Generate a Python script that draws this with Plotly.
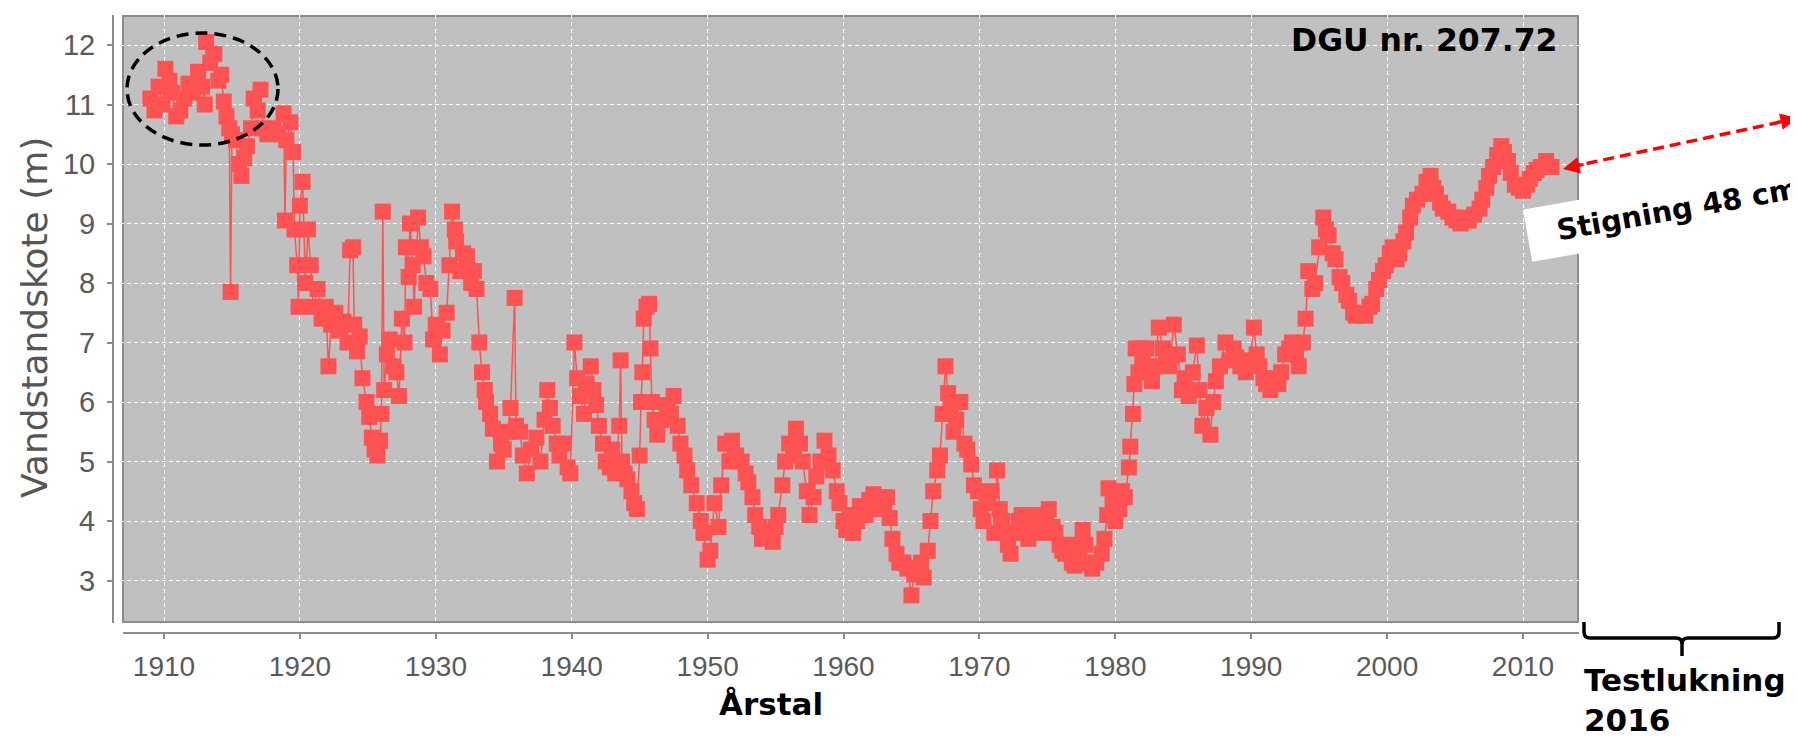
import plotly.graph_objects as go

# ---------------- data ----------------
years = [
    1909.0, 1909.3, 1909.6, 1909.9, 1910.1, 1910.4, 1910.6, 1910.9, 1911.2, 1911.5,
    1911.8, 1912.1, 1912.5, 1912.8, 1913.0, 1913.1, 1913.4, 1913.7, 1914.0, 1914.2,
    1914.4, 1914.6, 1914.8, 1914.9, 1915.0, 1915.3, 1915.5, 1915.7, 1915.9, 1916.1,
    1916.4, 1916.6, 1916.9, 1917.1, 1917.3, 1917.6, 1918.0, 1918.4, 1918.8, 1918.9,
    1919.0, 1919.3, 1919.5, 1919.6, 1919.8, 1919.9, 1920.0, 1920.2, 1920.4, 1920.6,
    1920.8, 1921.0, 1921.3, 1921.6, 1921.9, 1922.1, 1922.3, 1922.6, 1922.9, 1923.2,
    1923.5, 1923.7, 1923.9, 1924.0, 1924.2, 1924.4, 1924.6, 1924.9, 1925.1, 1925.3,
    1925.5, 1925.7, 1925.9, 1926.0, 1926.1, 1926.2, 1926.4, 1926.6, 1926.9, 1927.1,
    1927.3, 1927.5, 1927.7, 1927.8, 1928.0, 1928.1, 1928.3, 1928.4, 1928.7, 1928.9,
    1929.1, 1929.3, 1929.6, 1929.8, 1930.0, 1930.3, 1930.5, 1930.8, 1931.0, 1931.2,
    1931.4, 1931.5, 1931.8, 1932.0, 1932.3, 1932.6, 1932.8, 1933.0, 1933.2, 1933.4,
    1933.6, 1933.7, 1934.0, 1934.2, 1934.5, 1934.8, 1935.0, 1935.3, 1935.5, 1935.8,
    1935.9, 1936.2, 1936.4, 1936.7, 1937.0, 1937.4, 1937.7, 1938.0, 1938.2, 1938.4,
    1938.6, 1938.9, 1939.1, 1939.4, 1939.7, 1939.9, 1940.2, 1940.4, 1940.6, 1940.9,
    1941.1, 1941.4, 1941.6, 1941.8, 1942.0, 1942.3, 1942.5, 1942.8, 1943.0, 1943.2,
    1943.5, 1943.6, 1943.7, 1943.9, 1944.1, 1944.4, 1944.6, 1944.8, 1945.0, 1945.1,
    1945.2, 1945.3, 1945.5, 1945.7, 1945.8, 1945.9, 1946.1, 1946.3, 1946.6, 1947.0,
    1947.3, 1947.5, 1947.8, 1948.0, 1948.3, 1948.5, 1948.8, 1949.2, 1949.5, 1949.7,
    1950.0, 1950.2, 1950.5, 1950.8, 1951.0, 1951.3, 1951.6, 1951.8, 1952.1, 1952.5,
    1952.8, 1953.0, 1953.3, 1953.5, 1953.8, 1954.0, 1954.4, 1954.8, 1955.0, 1955.2,
    1955.5, 1955.7, 1956.0, 1956.3, 1956.5, 1956.8, 1957.0, 1957.3, 1957.5, 1957.8,
    1958.0, 1958.3, 1958.6, 1958.9, 1959.2, 1959.5, 1959.7, 1960.0, 1960.2, 1960.5,
    1960.7, 1961.0, 1961.2, 1961.6, 1961.9, 1962.2, 1962.5, 1962.8, 1963.0, 1963.2,
    1963.4, 1963.6, 1963.9, 1964.1, 1964.4, 1964.7, 1965.0, 1965.2, 1965.4, 1965.7,
    1965.9, 1966.2, 1966.4, 1966.6, 1966.9, 1967.1, 1967.3, 1967.5, 1967.7, 1967.9,
    1968.1, 1968.3, 1968.6, 1968.9, 1969.1, 1969.4, 1969.6, 1969.9, 1970.1, 1970.3,
    1970.6, 1970.9, 1971.1, 1971.3, 1971.5, 1971.7, 1971.9, 1972.1, 1972.3, 1972.6,
    1972.9, 1973.1, 1973.4, 1973.6, 1973.9, 1974.1, 1974.3, 1974.6, 1974.9, 1975.1,
    1975.4, 1975.6, 1975.9, 1976.1, 1976.3, 1976.6, 1976.8, 1977.0, 1977.3, 1977.6,
    1977.8, 1978.0, 1978.3, 1978.6, 1979.0, 1979.2, 1979.4, 1979.5, 1979.8, 1980.0,
    1980.3, 1980.5, 1980.7, 1981.0, 1981.1, 1981.3, 1981.4, 1981.5, 1981.7, 1981.9,
    1982.0, 1982.3, 1982.5, 1982.7, 1982.9, 1983.2, 1983.5, 1983.7, 1984.0, 1984.3,
    1984.6, 1984.9, 1985.1, 1985.4, 1985.7, 1986.0, 1986.2, 1986.4, 1986.7, 1987.0,
    1987.2, 1987.4, 1987.7, 1988.1, 1988.4, 1988.7, 1988.9, 1989.2, 1989.6, 1989.9,
    1990.2, 1990.4, 1990.6, 1990.9, 1991.1, 1991.4, 1991.7, 1992.0, 1992.2, 1992.5,
    1992.8, 1993.0, 1993.3, 1993.5, 1993.8, 1994.0, 1994.2, 1994.5, 1994.7, 1995.0,
    1995.3, 1995.5, 1995.7, 1996.0, 1996.2, 1996.5, 1996.7, 1997.0, 1997.2, 1997.5,
    1997.7, 1998.0, 1998.4, 1998.7, 1998.9, 1999.2, 1999.4, 1999.7, 1999.9, 2000.2,
    2000.4, 2000.7, 2000.9, 2001.2, 2001.4, 2001.7, 2001.9, 2002.2, 2002.6, 2002.9,
    2003.2, 2003.4, 2003.6, 2003.9, 2004.1, 2004.5, 2004.8, 2005.1, 2005.4, 2005.7,
    2006.0, 2006.4, 2006.8, 2007.0, 2007.3, 2007.5, 2007.8, 2008.1, 2008.4, 2008.6,
    2008.9, 2009.1, 2009.4, 2009.7, 2010.0, 2010.3, 2010.5, 2010.8, 2011.0, 2011.3,
    2011.7, 2012.1,
]

levels = [
    11.1, 10.9, 11.3, 11.0, 11.6, 11.4, 11.2, 10.8, 10.9, 11.1,
    11.35, 11.2, 11.55, 11.3, 11.0, 12.05, 11.7, 11.85, 11.4, 11.5,
    11.05, 10.8, 10.6, 7.85, 10.5, 10.4, 10.0, 9.8, 10.1, 10.3,
    10.6, 11.1, 10.9, 11.25, 10.6, 10.5, 10.6, 10.5, 10.85, 9.05,
    10.4, 10.7, 10.2, 8.9, 8.3, 7.6, 9.3, 9.7, 8.0, 8.9,
    8.3, 7.6, 7.9, 7.4, 7.6, 6.6, 7.3, 7.5, 7.2, 7.35,
    7.0, 8.55, 8.6, 7.3, 6.85, 7.1, 6.4, 6.0, 5.75, 5.4,
    5.2, 5.1, 5.35, 5.8, 9.2, 6.2, 6.8, 7.05, 6.6, 6.5,
    6.1, 7.4, 7.0, 8.6, 8.1, 9.0, 8.3, 7.6, 9.1, 8.6,
    8.45, 8.0, 7.9, 7.05, 7.3, 6.8, 7.2, 7.5, 8.3, 9.2,
    8.9, 8.7, 8.2, 8.5, 8.45, 8.0, 8.2, 7.9, 7.0, 6.5,
    6.2, 6.0, 5.8, 5.55, 5.0, 5.3, 5.2, 5.5, 5.9, 7.75,
    5.6, 5.5, 5.1, 4.8, 5.2, 5.4, 5.0, 5.7, 6.2, 5.9,
    5.6, 5.3, 5.1, 5.3, 4.9, 4.8, 7.0, 6.4, 6.1, 5.8,
    6.3, 6.6, 6.2, 5.95, 5.6, 5.3, 5.0, 4.9, 5.2, 4.8,
    5.6, 6.7, 5.0, 4.8, 4.7, 4.5, 4.3, 4.2, 5.1, 6.0,
    6.5, 7.4, 7.6, 7.65, 6.9, 6.0, 5.7, 5.45, 5.7, 5.95,
    5.8, 6.1, 5.6, 5.3, 5.1, 4.85, 4.6, 4.3, 4.0, 3.8,
    3.35, 3.5, 4.3, 3.9, 4.6, 5.3, 5.0, 5.35, 5.1, 5.0,
    4.8, 4.65, 4.4, 4.1, 3.9, 3.7, 3.8, 3.65, 3.9, 4.1,
    4.6, 5.0, 5.3, 5.1, 5.55, 5.3, 5.0, 4.5, 4.1, 4.4,
    4.75, 5.0, 5.35, 5.1, 4.85, 4.5, 4.3, 4.0, 3.85, 4.1,
    3.8, 4.0, 4.25, 4.1, 4.35, 4.45, 4.2, 4.4, 4.3, 4.4,
    4.05, 3.7, 3.45, 3.3, 3.3, 3.2, 2.75, 3.1, 3.2, 3.3,
    3.05, 3.5, 4.0, 4.5, 4.85, 5.1, 5.8, 6.6, 6.15, 5.9,
    5.5, 5.7, 6.0, 5.3, 5.2, 4.95, 4.6, 4.5, 4.2, 4.0,
    4.3, 4.5, 3.8, 4.85, 4.2, 4.0, 3.8, 3.6, 3.45, 3.8,
    4.0, 4.1, 3.8, 3.7, 3.9, 4.1, 4.0, 3.8, 4.0, 4.2,
    3.9, 3.8, 3.6, 3.5, 3.45, 3.6, 3.3, 3.25, 3.5, 3.85,
    3.6, 3.3, 3.2, 3.3, 3.45, 3.7, 4.1, 4.55, 4.3, 4.0,
    4.2, 4.5, 4.4, 4.9, 5.25, 5.8, 6.3, 6.9, 6.5, 6.9,
    6.75, 6.9, 6.5, 6.35, 6.6, 7.25, 6.9, 6.8, 6.6, 7.3,
    6.8, 6.2, 6.4, 6.1, 6.5, 6.95, 6.2, 5.6, 5.9, 5.45,
    6.0, 6.35, 6.6, 7.0, 6.7, 6.9, 6.75, 6.6, 6.5, 6.7,
    7.25, 6.8, 6.6, 6.4, 6.3, 6.2, 6.4, 6.3, 6.5, 6.8,
    6.9, 7.0, 6.8, 6.6, 7.0, 7.4, 8.2, 7.9, 8.0, 8.6,
    9.1, 8.9, 8.8, 8.5, 8.4, 8.1, 8.0, 7.8, 7.7, 7.5,
    7.45, 7.5, 7.45, 7.6, 7.65, 7.9, 8.05, 8.2, 8.3, 8.5,
    8.6, 8.4, 8.5, 8.7, 8.85, 9.1, 9.3, 9.4, 9.5, 9.7,
    9.8, 9.6, 9.5, 9.35, 9.25, 9.2, 9.1, 9.05, 9.0, 9.1,
    9.05, 9.15, 9.25, 9.4, 9.6, 9.8, 9.95, 10.15, 10.3, 10.2,
    10.05, 9.85, 9.65, 9.6, 9.55, 9.65, 9.75, 9.85, 9.9, 9.95,
    10.05, 9.95,
]

x_ticks = [1910, 1920, 1930, 1940, 1950, 1960, 1970, 1980, 1990, 2000, 2010]
y_ticks = [3, 4, 5, 6, 7, 8, 9, 10, 11, 12]

y_title = "Vandstandskote (m)"
x_title = "Årstal"
well_label = "DGU nr. 207.72"
rise_label = "Stigning 48 cm"
test_label = "Testlukning<br>2016"

# ---------------- layout geometry (reference pixels) ----------------
W, H = 1798, 736
OFF = 8                      # the page body margin shifts the figure by 8 px
L, R, T, B = 113, 1579, 15, 633   # plot area in page pixels


def px(xp):
    return (xp - L) / (R - L)


def py(yp):
    return (B - yp) / (B - T)


# axis ranges so that 1910 sits at x=164 px and 3 m at y=580.5 px
PPY = 13.59
PPM = 59.5
x_range = [1910 - (164 - L) / PPY, 1910 + (R - 164) / PPY]
y_range = [3 - (B - 580.5) / PPM, 12 + (45 - T) / PPM]

RED = "#FF5252"
BOLD = "DejaVu Sans"

fig = go.Figure()
fig.add_trace(go.Scatter(
    x=years, y=levels, mode="lines+markers",
    line=dict(color=RED, width=1.5),
    marker=dict(symbol="square", size=16, color=RED, line=dict(width=0)),
    showlegend=False, hoverinfo="x+y",
))

fig.update_layout(
    width=W, height=H,
    margin=dict(l=L - OFF, r=W - (R - OFF), t=T - OFF, b=H - (B - OFF), pad=0),
    paper_bgcolor="white", plot_bgcolor="rgba(0,0,0,0)",
    xaxis=dict(range=x_range, tickvals=x_ticks, showgrid=True, gridcolor="white",
               gridwidth=1, griddash="4px,3px", zeroline=False, showline=False,
               ticks="outside", ticklen=5, tickwidth=1.5, tickcolor="#8a8a8a",
               tickfont=dict(family="Liberation Sans, Arial, sans-serif", size=28, color="#5a5a5a"),
               ticklabelstandoff=3),
    yaxis=dict(range=y_range, tickvals=y_ticks, showgrid=True, gridcolor="white",
               gridwidth=1, griddash="4px,3px", zeroline=False, showline=False,
               ticks="outside", ticklen=5, tickwidth=1.5, tickcolor="#8a8a8a",
               tickfont=dict(family="Liberation Sans, Arial, sans-serif", size=29, color="#5a5a5a"),
               ticklabelstandoff=6),
)

shapes = [
    # grey plot background with darker border
    dict(type="rect", xref="paper", yref="paper", x0=px(123), x1=px(1578), y0=py(622), y1=py(16),
         fillcolor="#C0C0C0", line=dict(color="#8c8c8c", width=2), layer="below"),
    # offset axis lines
    dict(type="line", xref="paper", yref="paper", x0=px(113), x1=px(113), y0=py(15), y1=py(623),
         line=dict(color="#8c8c8c", width=2)),
    dict(type="line", xref="paper", yref="paper", x0=px(123), x1=px(1579), y0=py(633), y1=py(633),
         line=dict(color="#8c8c8c", width=2)),
    # dashed ellipse around the early period
    dict(type="circle", xref="paper", yref="paper", x0=px(127), x1=px(278), y0=py(145), y1=py(33),
         line=dict(color="black", width=3.5, dash="12px,7px")),
    # red dashed arrow shaft
    dict(type="line", xref="paper", yref="paper", x0=px(1570), y0=py(167), x1=px(1790), y1=py(120),
         line=dict(color="#FF0000", width=3.5, dash="11px,6px")),
]

# brace under "Testlukning"
pts = [(1584, 622), (1584, 632), (1590, 638), (1676, 638), (1682, 644), (1682, 656),
       (1682, 644), (1688, 638), (1773, 638), (1779, 632), (1779, 622)]
p = [(px(a), py(b)) for a, b in pts]
path = (f"M {p[0][0]},{p[0][1]} L {p[1][0]},{p[1][1]} Q {p[0][0]},{p[3][1]} {p[2][0]},{p[2][1]} "
        f"L {p[3][0]},{p[3][1]} Q {p[4][0]},{p[3][1]} {p[4][0]},{p[4][1]} L {p[5][0]},{p[5][1]} "
        f"M {p[6][0]},{p[6][1]} Q {p[6][0]},{p[7][1]} {p[7][0]},{p[7][1]} L {p[8][0]},{p[8][1]} "
        f"Q {p[10][0]},{p[8][1]} {p[9][0]},{p[9][1]} L {p[10][0]},{p[10][1]}")
shapes.append(dict(type="path", xref="paper", yref="paper", path=path,
                   line=dict(color="black", width=3.5)))
fig.update_layout(shapes=shapes)

ann = [
    dict(text=y_title, x=px(34), y=py(318), textangle=-90,
         font=dict(family="DejaVu Sans", size=36, color="#555555")),
    dict(text=x_title, x=px(771), y=py(704),
         font=dict(family=BOLD, size=31, color="black", weight="bold")),
    dict(text=test_label, x=px(1582), y=py(700), xanchor="left", align="left",
         font=dict(family=BOLD, size=31, color="black", weight="bold")),
    dict(text=well_label, x=px(1560), y=py(40), xanchor="right",
         font=dict(family=BOLD, size=31.5, color="black", weight="bold")),
    dict(text="&nbsp;&nbsp;" + rise_label, x=px(1668), y=py(211), textangle=-10,
         bgcolor="white", borderpad=9,
         font=dict(family=BOLD, size=29, color="black", weight="bold")),
    # arrow heads of the red dashed double arrow
    dict(text="", x=px(1563), y=py(169), ax=22, ay=-5, showarrow=True, arrowhead=2,
         arrowsize=1.1, arrowwidth=3, arrowcolor="#FF0000"),
    dict(text="", x=px(1797), y=py(118), ax=-22, ay=5, showarrow=True, arrowhead=2,
         arrowsize=1.1, arrowwidth=3, arrowcolor="#FF0000"),
]
for a in ann:
    a.setdefault("showarrow", False)
    a.update(xref="paper", yref="paper")
    a.setdefault("xanchor", "center")
    a.setdefault("yanchor", "middle")
fig.update_layout(annotations=ann)

fig.write_html("out.html")
